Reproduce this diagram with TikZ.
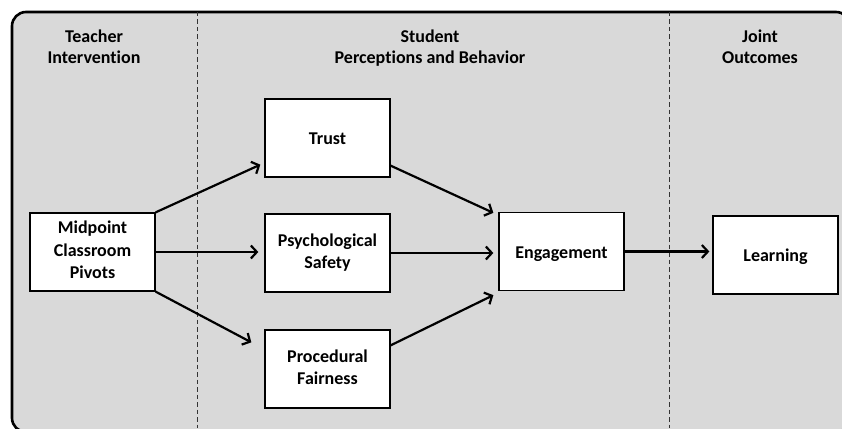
\documentclass[tikz,border=0pt]{standalone}
\usepackage{fontspec}
\setmainfont{Carlito}[Ligatures=NoCommon]
\usetikzlibrary{arrows.meta}

\definecolor{panelgray}{HTML}{D9D9D9}
% fixed strut so every label sits at the same optical height
\newcommand{\lblstrut}{\rule[-4pt]{0pt}{21pt}}

\begin{document}
\begin{tikzpicture}[x=1pt,y=-1pt,
  lbl/.style={align=center,
    execute at begin node=\lblstrut, execute at end node=\lblstrut},
  box/.style={lbl, font=\bfseries\fontsize{18}{22.5}\selectfont,
    draw=black, fill=white, line width=1.3pt,
    minimum width=125pt, minimum height=78pt, inner sep=0pt},
  header/.style={lbl, font=\bfseries\fontsize{18}{21}\selectfont,
    anchor=north, inner sep=0pt},
  divider/.style={line width=0.9pt, dash pattern=on 4.5pt off 3pt, black!80},
  link/.style={line width=2.2pt,
    -{Straight Barb[length=6pt,width=13pt,line width=2.2pt]}}]

\useasboundingbox (0,0) rectangle (842,428);
\clip (0,0) rectangle (842,428);

% background panel
\draw[fill=panelgray, line width=2.6pt, rounded corners=14pt]
  (12,12) rectangle (850,432);

% column dividers
\coordinate (d1top) at (197,12);
\coordinate (d1bot) at (197,428);
\coordinate (d2top) at (669,12);
\coordinate (d2bot) at (669,428);
\draw[divider] (d1top) -- (d1bot);
\draw[divider] (d2top) -- (d2bot);

% column headers
\node[header] (hteacher) at (94,30) {Teacher\\Intervention};
\node[header] (hstudent) at (430,30) {Student\\Perceptions and Behavior};
\node[header] (hjoint)   at (760,30) {Joint\\Outcomes};

% boxes
\node[box] (mid)   at (92.5,252)  {Midpoint\\Classroom\\Pivots};
\node[box] (trust) at (327.5,138) {Trust};
\node[box] (psych) at (327.5,253) {Psychological\\Safety};
\node[box] (proc)  at (327.5,369) {Procedural\\Fairness};
\node[box] (eng)   at (561.5,251.5) {Engagement};
\node[box] (learn) at (775.5,255) {Learning};

% paths
\draw[link] (mid.north east) -- ([xshift=-4pt,yshift=13pt]trust.south west);
\draw[link] (mid.east) -- ([xshift=-6pt]psych.west |- mid.east);
\draw[link] (mid.south east) -- ([xshift=-13pt,yshift=-13pt]proc.north west);

\draw[link] ([yshift=12pt]trust.south east) -- ([xshift=-5pt,yshift=-1pt]eng.north west);
\draw[link] (psych.east) -- ([xshift=-5pt]eng.west |- psych.east);
\draw[link] ([yshift=-16pt]proc.north east) -- ([xshift=-5pt,yshift=-4pt]eng.south west);

\draw[link] (eng.east) -- ([xshift=-3pt]learn.west |- eng.east);
\end{tikzpicture}
\end{document}
